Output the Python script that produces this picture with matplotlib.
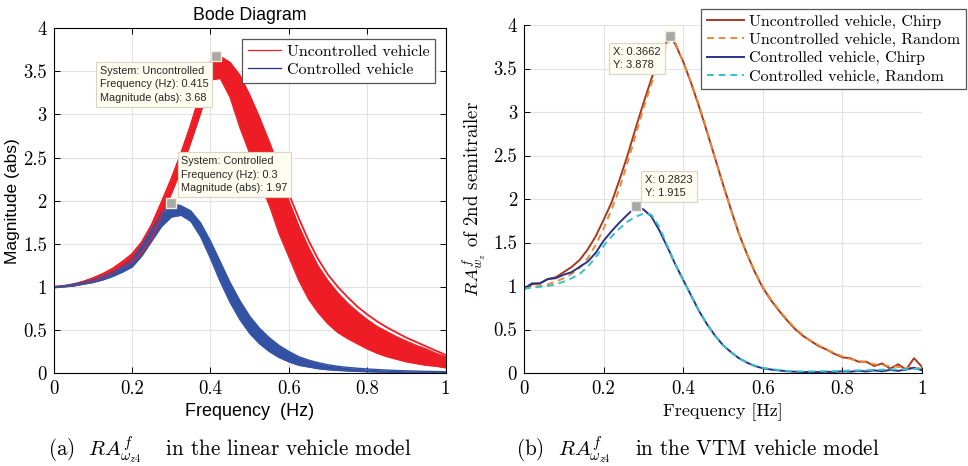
"""Bode magnitude bundles (linear model) next to measured VTM responses."""
import numpy as np
import matplotlib
matplotlib.use('Agg')
import matplotlib.pyplot as plt
from matplotlib.ticker import FuncFormatter

plt.rcParams.update({
    'font.family': 'cmr10',
    'mathtext.fontset': 'cm',
    'axes.formatter.use_mathtext': True,
    'axes.unicode_minus': False,
})
SANS = 'Liberation Sans'

# ---- (a) linear vehicle model: envelopes of the bode bundles -------------
freq_lin = np.linspace(0, 1, 41)          # 0.025 Hz steps
unc_top = [1.00, 1.01, 1.03, 1.06, 1.10, 1.15, 1.21, 1.29, 1.38, 1.52, 1.72,
           1.98, 2.25, 2.55, 2.88, 3.25, 3.60, 3.67, 3.60, 3.45, 3.22, 2.96,
           2.68, 2.38, 2.08, 1.80, 1.54, 1.32, 1.14, 1.00, 0.88, 0.77, 0.68,
           0.60, 0.53, 0.47, 0.41, 0.36, 0.31, 0.26, 0.21]
unc_band = [1.00, 1.01, 1.03, 1.06, 1.10, 1.15, 1.21, 1.29, 1.38, 1.52, 1.72,
            1.98, 2.25, 2.55, 2.88, 3.25, 3.60, 3.67, 3.60, 3.45, 3.22, 2.96,
            2.64, 2.32, 2.00, 1.71, 1.46, 1.24, 1.07, 0.93, 0.81, 0.71, 0.62,
            0.54, 0.48, 0.42, 0.37, 0.32, 0.28, 0.23, 0.19]
unc_low = [0.99, 1.00, 1.01, 1.04, 1.07, 1.11, 1.16, 1.23, 1.29, 1.40, 1.57,
           1.82, 2.08, 2.36, 2.68, 3.02, 3.40, 3.42, 3.20, 2.85, 2.55, 2.22,
           1.95, 1.62, 1.35, 1.08, 0.86, 0.70, 0.57, 0.47, 0.40, 0.34, 0.28,
           0.23, 0.19, 0.16, 0.13, 0.11, 0.09, 0.08, 0.06]
ctl_hi = [1.00, 1.01, 1.03, 1.05, 1.08, 1.12, 1.17, 1.23, 1.32, 1.48, 1.67,
          1.85, 1.97, 1.94, 1.88, 1.74, 1.53, 1.29, 1.05, 0.84, 0.66, 0.52,
          0.41, 0.32, 0.25, 0.19, 0.15, 0.12, 0.095, 0.078, 0.065, 0.055,
          0.047, 0.040, 0.034, 0.029, 0.025, 0.022, 0.019, 0.017, 0.015]
ctl_lo = [0.99, 1.00, 1.01, 1.03, 1.05, 1.08, 1.12, 1.17, 1.23, 1.36, 1.53,
          1.70, 1.81, 1.83, 1.76, 1.58, 1.33, 1.06, 0.82, 0.62, 0.46, 0.34,
          0.25, 0.18, 0.13, 0.09, 0.07, 0.05, 0.038, 0.030, 0.024, 0.019,
          0.015, 0.012, 0.010, 0.008, 0.007, 0.006, 0.005, 0.004, 0.003]

# ---- (b) VTM vehicle model: measured ratios ------------------------------
freq_vtm = [0.00, 0.02, 0.04, 0.06, 0.08, 0.10, 0.12, 0.14, 0.16, 0.18, 0.20,
            0.22, 0.24, 0.26, 0.2823, 0.30, 0.32, 0.34, 0.3662, 0.38, 0.40,
            0.42, 0.44, 0.46, 0.48, 0.50, 0.52, 0.54, 0.56, 0.58, 0.60, 0.62,
            0.64, 0.66, 0.68, 0.70, 0.72, 0.74, 0.76, 0.78, 0.80, 0.82, 0.84,
            0.86, 0.88, 0.90, 0.92, 0.94, 0.96, 0.98, 1.00]
unc_chirp = [0.96, 1.02, 1.03, 1.08, 1.10, 1.16, 1.22, 1.30, 1.42, 1.57, 1.76,
             1.96, 2.22, 2.50, 2.84, 3.10, 3.38, 3.64, 3.878, 3.78, 3.58,
             3.33, 3.06, 2.77, 2.47, 2.17, 1.88, 1.60, 1.37, 1.16, 0.98, 0.84,
             0.72, 0.61, 0.51, 0.43, 0.37, 0.31, 0.27, 0.22, 0.18, 0.17, 0.13,
             0.13, 0.08, 0.11, 0.05, 0.10, 0.04, 0.17, 0.07]
unc_random = [0.97, 0.99, 1.00, 1.02, 1.05, 1.09, 1.14, 1.21, 1.32, 1.47, 1.66,
              1.88, 2.12, 2.42, 2.76, 3.04, 3.32, 3.58, 3.84, 3.80, 3.57,
              3.34, 3.08, 2.78, 2.47, 2.16, 1.87, 1.60, 1.37, 1.17, 0.99, 0.85,
              0.73, 0.62, 0.52, 0.44, 0.37, 0.32, 0.27, 0.23, 0.19, 0.16, 0.14,
              0.12, 0.10, 0.09, 0.08, 0.07, 0.06, 0.06, 0.05]
ctl_chirp = [0.97, 1.03, 1.03, 1.08, 1.09, 1.13, 1.16, 1.22, 1.28, 1.38, 1.52,
             1.63, 1.73, 1.82, 1.915, 1.88, 1.80, 1.64, 1.39, 1.25, 1.07,
             0.89, 0.71, 0.56, 0.43, 0.32, 0.24, 0.17, 0.12, 0.08, 0.055, 0.04,
             0.03, 0.02, 0.015, 0.01, 0.012, 0.01, 0.014, 0.012, 0.02, 0.015,
             0.025, 0.018, 0.03, 0.02, 0.035, 0.025, 0.04, 0.06, 0.03]
ctl_random = [0.97, 0.98, 0.99, 1.00, 1.02, 1.05, 1.09, 1.14, 1.22, 1.33, 1.46,
              1.57, 1.66, 1.74, 1.80, 1.83, 1.82, 1.68, 1.40, 1.25, 1.07,
              0.89, 0.71, 0.56, 0.43, 0.32, 0.24, 0.17, 0.12, 0.085, 0.06,
              0.045, 0.035, 0.025, 0.02, 0.018, 0.018, 0.02, 0.02, 0.022,
              0.025, 0.028, 0.03, 0.033, 0.035, 0.038, 0.04, 0.042, 0.045,
              0.047, 0.05]

RED, BLUE = '#ee1d25', '#3352a3'

fig = plt.figure(figsize=(9.68, 4.66), dpi=100)
ax1 = fig.add_axes([53.8 / 968, 93 / 466, 391.7 / 968, 344.7 / 466])
ax2 = fig.add_axes([524 / 968, 93 / 466, 398 / 968, 348 / 466])

fmt = FuncFormatter(lambda v, _: f'{v:g}')
for ax in (ax1, ax2):
    ax.set_xlim(0, 1)
    ax.set_ylim(0, 4)
    ax.set_xticks(np.arange(0, 1.01, 0.2))
    ax.set_yticks(np.arange(0, 4.01, 0.5))
    ax.xaxis.set_major_formatter(fmt)
    ax.yaxis.set_major_formatter(fmt)
    ax.grid(True, color='#e2e2e2', lw=0.8)
    ax.set_axisbelow(True)
    ax.tick_params(direction='in', length=4, width=0.7, labelsize=13.5, pad=5)
    for s in ax.spines.values():
        s.set_linewidth(0.8)

ax1.tick_params(top=True, right=True)
ax2.spines['top'].set_visible(False)
ax2.spines['right'].set_visible(False)


def datatip(ax, x, y, text, dx, dy, ha, va, size):
    ax.plot([x], [y], marker='s', ms=6.5, mfc='#a8a8a8', mec='#f2eed8',
            mew=1, zorder=6, clip_on=False)
    ax.annotate(text, xy=(x, y), xytext=(dx, dy), textcoords='offset pixels',
                ha=ha, va=va, multialignment='left', fontsize=size,
                family=SANS, color='#262626', linespacing=1.45, zorder=7,
                bbox=dict(boxstyle='square,pad=0.35', fc='#fffdf0',
                          ec='#d9d5c3', lw=0.8))


# (a) bundles
ax1.fill_between(freq_lin, unc_low, unc_band, color=RED, lw=0)
ax1.plot(freq_lin, unc_low, color=RED, lw=1.0)
ax1.plot(freq_lin, unc_band, color=RED, lw=1.0)
ax1.plot(freq_lin, unc_top, color=RED, lw=1.3, label='Uncontrolled vehicle')
ax1.fill_between(freq_lin, ctl_lo, ctl_hi, color=BLUE, lw=0)
ax1.plot(freq_lin, ctl_lo, color=BLUE, lw=1.0)
ax1.plot(freq_lin, ctl_hi, color=BLUE, lw=1.0, label='Controlled vehicle')

leg1 = ax1.legend(loc='upper right', bbox_to_anchor=(435 / 968, 1 - 39 / 466),
                  bbox_transform=fig.transFigure, borderaxespad=0,
                  fontsize=11.5, fancybox=False, framealpha=1,
                  edgecolor='#555555', handlelength=2.1, handletextpad=0.35,
                  labelspacing=0.25, borderpad=0.35)
leg1.get_frame().set_linewidth(0.9)
for h, c in zip(leg1.get_lines(), ['#e8202a', '#22307e']):
    h.set_linewidth(0.9)
    h.set_color(c)

datatip(ax1, 0.415, 3.68,
        'System: Uncontrolled\nFrequency (Hz): 0.415\nMagnitude (abs): 3.68',
        -8, -10, 'right', 'top', 7.8)
datatip(ax1, 0.3, 1.97,
        'System: Controlled\nFrequency (Hz): 0.3\nMagnitude (abs): 1.97',
        10, 10, 'left', 'bottom', 7.8)

ax1.set_title('Bode Diagram', family=SANS, fontsize=12.8, pad=6)
ax1.set_xlabel('Frequency  (Hz)', family=SANS, fontsize=13, labelpad=4)
ax1.set_ylabel('Magnitude (abs)', family=SANS, fontsize=12.5, labelpad=2)

# (b) measured curves
ax2.plot(freq_vtm, unc_chirp, color='#a33a1f', lw=1.4,
         label='Uncontrolled vehicle, Chirp')
ax2.plot(freq_vtm, unc_random, color='#e98a3a', lw=1.4, ls=(0, (3.5, 2.5)),
         label='Uncontrolled vehicle, Random')
ax2.plot(freq_vtm, ctl_chirp, color='#2a3288', lw=1.4,
         label='Controlled vehicle, Chirp')
ax2.plot(freq_vtm, ctl_random, color='#33c2c9', lw=1.4, ls=(0, (3.5, 2.5)),
         label='Controlled vehicle, Random')

leg2 = ax2.legend(loc='upper right', bbox_to_anchor=(966 / 968, 1 - 9 / 466),
                  bbox_transform=fig.transFigure, borderaxespad=0,
                  fontsize=11.5, fancybox=False, framealpha=1,
                  edgecolor='#555555', handlelength=2.3, handletextpad=0.35,
                  labelspacing=0.25, borderpad=0.35)
leg2.get_frame().set_linewidth(0.9)

datatip(ax2, 0.3662, 3.878, 'X: 0.3662\nY: 3.878', -9, -11, 'right', 'top', 8)
datatip(ax2, 0.2823, 1.915, 'X: 0.2823\nY: 1.915', 9, 8, 'left', 'bottom', 8)

ax2.set_xlabel('Frequency [Hz]', fontsize=13, labelpad=4)
ax2.set_ylabel(r'$RA^{f}_{w_z}$ of 2nd semitrailer', fontsize=13.5, labelpad=4)

# sub-captions
fig.text(230 / 968, 10 / 466,
         r'(a)  $RA^{f}_{\omega_{z4}}\quad\;$in the linear vehicle model',
         ha='center', va='baseline', fontsize=15.2)
fig.text(698 / 968, 10 / 466,
         r'(b)  $RA^{f}_{\omega_{z4}}\quad\;$in the VTM vehicle model',
         ha='center', va='baseline', fontsize=15.2)

fig.savefig('out.png', dpi=100, facecolor='white')
